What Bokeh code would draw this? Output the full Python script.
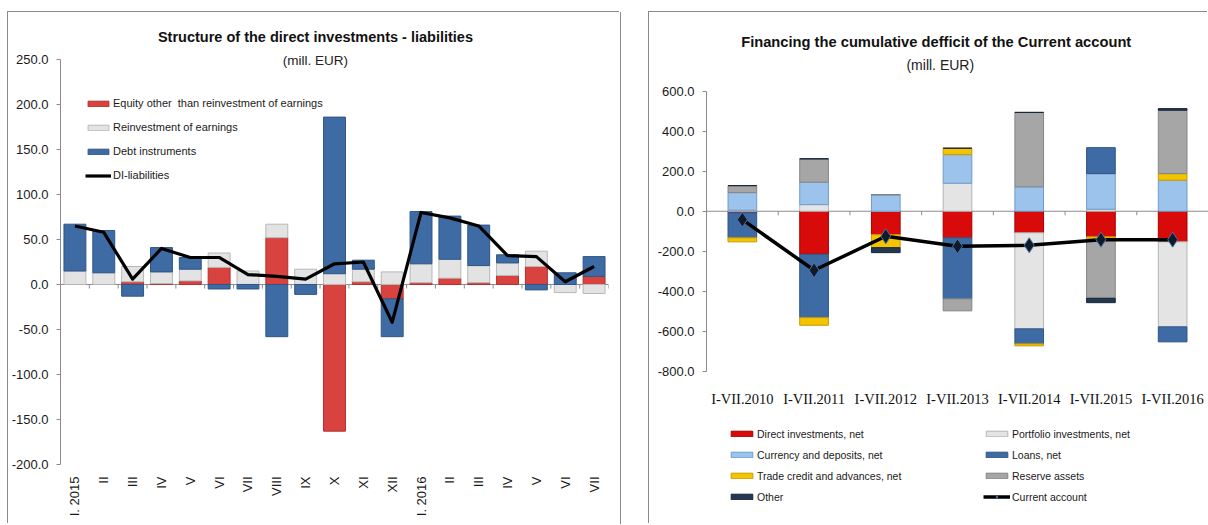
import numpy as np
from bokeh.plotting import figure
from bokeh.models import (Range1d, FixedTicker, PrintfTickFormatter, Span, Label,
                          Legend, LegendItem, Spacer)
from bokeh.layouts import row, column
from bokeh.embed import file_html
from bokeh.resources import INLINE

# ---------------- data: left chart ----------------
months = ["I. 2015", "II", "III", "IV", "V", "VI", "VII", "VIII", "IX", "X", "XI", "XII",
          "I. 2016", "II", "III", "IV", "V", "VI", "VII"]
equity = [0, 0, 3, 1, 4, 19, 0, 52, 0, -163, 3, -16, 2, 7, 2, 10, 20, 0, 9]
reinvest = [15, 13, 17, 13, 13, 16, 15, 15, 17, 12, 14, 14, 21, 21, 19, 14, 17, -9, -10]
debt = [52, 47, -13, 27, 13, -5, -5, -58, -11, 174, 10, -42, 58, 48, 45, 9, -6, 13, 22]
di_liabilities = [65, 58, 6, 40, 30, 30, 11, 9, 6, 23, 25, -42, 80, 74, 65, 32, 31, 3, 20]

# ---------------- data: right chart ----------------
periods = ["I-VII.2010", "I-VII.2011", "I-VII.2012", "I-VII.2013", "I-VII.2014",
           "I-VII.2015", "I-VII.2016"]
direct_inv = [-8, -215, -117, -133, -108, -128, -153]
portfolio = [5, 33, 0, 140, -480, 10, -425]
currency = [88, 112, 83, 143, 122, 178, 155]
loans = [-125, -317, 0, -305, -75, 130, -75]
trade = [-20, -38, -65, 32, -10, -12, 33]
reserve = [35, 117, 0, -60, 372, -295, 317]
other = [0, 0, -25, 0, 0, -22, 8]
current_account = [-42, -295, -125, -175, -170, -142, -142]

NARROW = "Liberation Sans Narrow, Liberation Sans"
AXIS_GREY = "#8c8c8c"


def stack(series_list, n):
    pos = np.zeros(n)
    neg = np.zeros(n)
    out = []
    for s in series_list:
        s = np.asarray(s, float)
        bottom = np.where(s >= 0, pos, neg)
        top = bottom + s
        pos = np.where(s >= 0, top, pos)
        neg = np.where(s < 0, top, neg)
        out.append((bottom, top))
    return out


def style_common(p):
    p.xgrid.grid_line_color = None
    p.ygrid.grid_line_color = None
    p.outline_line_color = None
    p.background_fill_color = "white"
    p.border_fill_color = "white"


def style_yaxis(p, ticks, bounds):
    p.yaxis.ticker = FixedTicker(ticks=ticks)
    p.yaxis.bounds = bounds
    p.yaxis.formatter = PrintfTickFormatter(format="%.1f")
    p.yaxis.axis_line_color = AXIS_GREY
    p.yaxis.major_tick_line_color = AXIS_GREY
    p.yaxis.major_tick_out = 4
    p.yaxis.major_tick_in = 0
    p.yaxis.minor_tick_line_color = None
    p.yaxis.major_label_standoff = 8
    p.yaxis.major_label_text_font = NARROW
    p.yaxis.major_label_text_font_size = "13px"
    p.yaxis.major_label_text_color = "#1a1a1a"


# =============== LEFT FIGURE ===============
n1 = len(months)
x1 = np.arange(n1)
p1 = figure(width=612, height=512, output_backend="svg", toolbar_location=None,
            x_range=Range1d(-0.5, n1 - 0.5), y_range=Range1d(-266.7, 300),
            min_border_left=50, min_border_right=12, min_border_top=2, min_border_bottom=0)
style_common(p1)
p1.styles = {"box-shadow": "-1px -1px 0 0 #8a8a8a, 1px 0 0 0 #8a8a8a"}

left_series = [("Equity other  than reinvestment of earnings", equity, "#d9433f", "#b3302d"),
               ("Reinvestment of earnings", reinvest, "#e3e3e3", "#b8b8b8"),
               ("Debt instruments", debt, "#3f6ba4", "#2f5686")]
stk = stack([s[1] for s in left_series], n1)

p1.add_layout(Span(location=0, dimension="width", line_color=AXIS_GREY, line_width=1,
                   level="underlay"))
bx1 = np.arange(n1 + 1) - 0.5
p1.segment(x0=bx1[1:], y0=np.zeros(n1), x1=bx1[1:], y1=np.full(n1, -4.5),
           line_color=AXIS_GREY, line_width=1)

items1 = []
for (name, vals, fill, line), (b, t) in zip(left_series, stk):
    r = p1.vbar(x=x1, bottom=b, top=t, width=0.76, fill_color=fill, line_color=line, line_width=1)
    items1.append(LegendItem(label=name, renderers=[r]))
rl = p1.line(x1, di_liabilities, line_color="black", line_width=3.2, line_join="round")
items1.append(LegendItem(label="DI-liabilities", renderers=[rl]))

style_yaxis(p1, list(range(-200, 251, 50)), (-200, 250))

p1.xaxis.fixed_location = -200
p1.xaxis.ticker = FixedTicker(ticks=list(range(n1)))
p1.xaxis.major_label_overrides = {i: m for i, m in enumerate(months)}
p1.xaxis.major_label_orientation = np.pi / 2
p1.xaxis.axis_line_color = None
p1.xaxis.major_tick_line_color = None
p1.xaxis.minor_tick_line_color = None
p1.xaxis.major_label_standoff = 6
p1.xaxis.major_label_text_font = "Liberation Sans"
p1.xaxis.major_label_text_font_size = "13px"
p1.xaxis.major_label_text_color = "#1a1a1a"

p1.add_layout(Label(x=8.34, y=275, text="Structure of the direct investments - liabilities",
                    text_font=NARROW, text_font_style="bold", text_font_size="14.5px",
                    text_align="center", text_baseline="middle", text_color="#111"))
p1.add_layout(Label(x=8.34, y=249, text="(mill. EUR)", text_font=NARROW,
                    text_font_size="13.5px", text_align="center", text_baseline="middle",
                    text_color="#222"))

leg1 = Legend(items=items1, location=(25, 339), padding=0, spacing=4, label_height=20,
              glyph_width=26, glyph_height=7, label_standoff=2,
              label_text_font=NARROW, label_text_font_size="11px",
              label_text_color="#1a1a1a", border_line_color=None,
              background_fill_alpha=0)
p1.add_layout(leg1)

# =============== RIGHT FIGURE ===============
n2 = len(periods)
x2 = np.arange(n2)
p2 = figure(width=559, height=512, output_backend="svg", toolbar_location=None,
            x_range=Range1d(-0.5, n2 - 0.5), y_range=Range1d(-1566, 983.5),
            min_border_left=57, min_border_right=0, min_border_top=2, min_border_bottom=0)
style_common(p2)
p2.styles = {"box-shadow": "-1px -1px 0 0 #8a8a8a"}

right_series = [("Direct investments, net", direct_inv, "#d80a0a", "#a80000"),
                ("Portfolio investments, net", portfolio, "#e4e4e4", "#b5b5b5"),
                ("Currency and deposits, net", currency, "#9cc3eb", "#6f9ccc"),
                ("Loans, net", loans, "#3f6ba4", "#2f5686"),
                ("Trade credit and advances, net", trade, "#f4c400", "#c79b00"),
                ("Reserve assets", reserve, "#a6a6a6", "#858585"),
                ("Other", other, "#26384f", "#18263a")]
stk2 = stack([s[1] for s in right_series], n2)

p2.add_layout(Span(location=0, dimension="width", line_color=AXIS_GREY, line_width=1.2,
                   level="underlay"))
bx2 = np.arange(n2 + 1) - 0.5
p2.segment(x0=bx2[1:], y0=np.zeros(n2), x1=bx2[1:], y1=np.full(n2, -20),
           line_color=AXIS_GREY, line_width=1)

renderers2 = {}
for (name, vals, fill, line), (b, t) in zip(right_series, stk2):
    r = p2.vbar(x=x2, bottom=b, top=t, width=0.4, fill_color=fill, line_color=line, line_width=1)
    renderers2[name] = r
rca = p2.line(x2, current_account, line_color="black", line_width=3.5, line_join="round")
rcm = p2.scatter(x2, current_account, marker="diamond", size=15, fill_color="#111a28",
                 line_color="#4a74a8", line_width=1)

style_yaxis(p2, list(range(-800, 601, 200)), (-800, 600))

p2.xaxis.fixed_location = -800
p2.xaxis.ticker = FixedTicker(ticks=list(range(n2)))
p2.xaxis.major_label_overrides = {i: s for i, s in enumerate(periods)}
p2.xaxis.axis_line_color = None
p2.xaxis.major_tick_line_color = None
p2.xaxis.minor_tick_line_color = None
p2.xaxis.major_label_standoff = 14
p2.xaxis.major_label_text_font = "Liberation Serif"
p2.xaxis.major_label_text_font_size = "14.5px"
p2.xaxis.major_label_text_color = "#111"

p2.add_layout(Label(x=2.76, y=848,
                    text="Financing  the cumulative  defficit of the Current account",
                    text_font=NARROW, text_font_style="bold", text_font_size="14.7px",
                    text_align="center", text_baseline="middle", text_color="#111"))
p2.add_layout(Label(x=2.76, y=733, text="(mill. EUR)", text_font=NARROW,
                    text_font_size="14px", text_align="center", text_baseline="middle",
                    text_color="#222"))

col_a = ["Direct investments, net", "Currency and deposits, net",
         "Trade credit and advances, net", "Other"]
col_b = ["Portfolio investments, net", "Loans, net", "Reserve assets"]
items_a = [LegendItem(label=nm, renderers=[renderers2[nm]]) for nm in col_a]
items_b = [LegendItem(label=nm, renderers=[renderers2[nm]]) for nm in col_b]
items_b.append(LegendItem(label="Current account", renderers=[rca, rcm]))

leg_kw = dict(padding=0, spacing=4, label_height=17, glyph_width=27, glyph_height=7,
              label_standoff=2, label_text_font=NARROW, label_text_font_size="10.5px",
              label_text_color="#1a1a1a", border_line_color=None, background_fill_alpha=0)
p2.add_layout(Legend(items=items_a, location=(22, 19), **leg_kw))
p2.add_layout(Legend(items=items_b, location=(277, 19), **leg_kw))

layout = column(Spacer(height=12), row(Spacer(width=8), p1, Spacer(width=29), p2))

open("out.html", "w").write(file_html(layout, INLINE))
